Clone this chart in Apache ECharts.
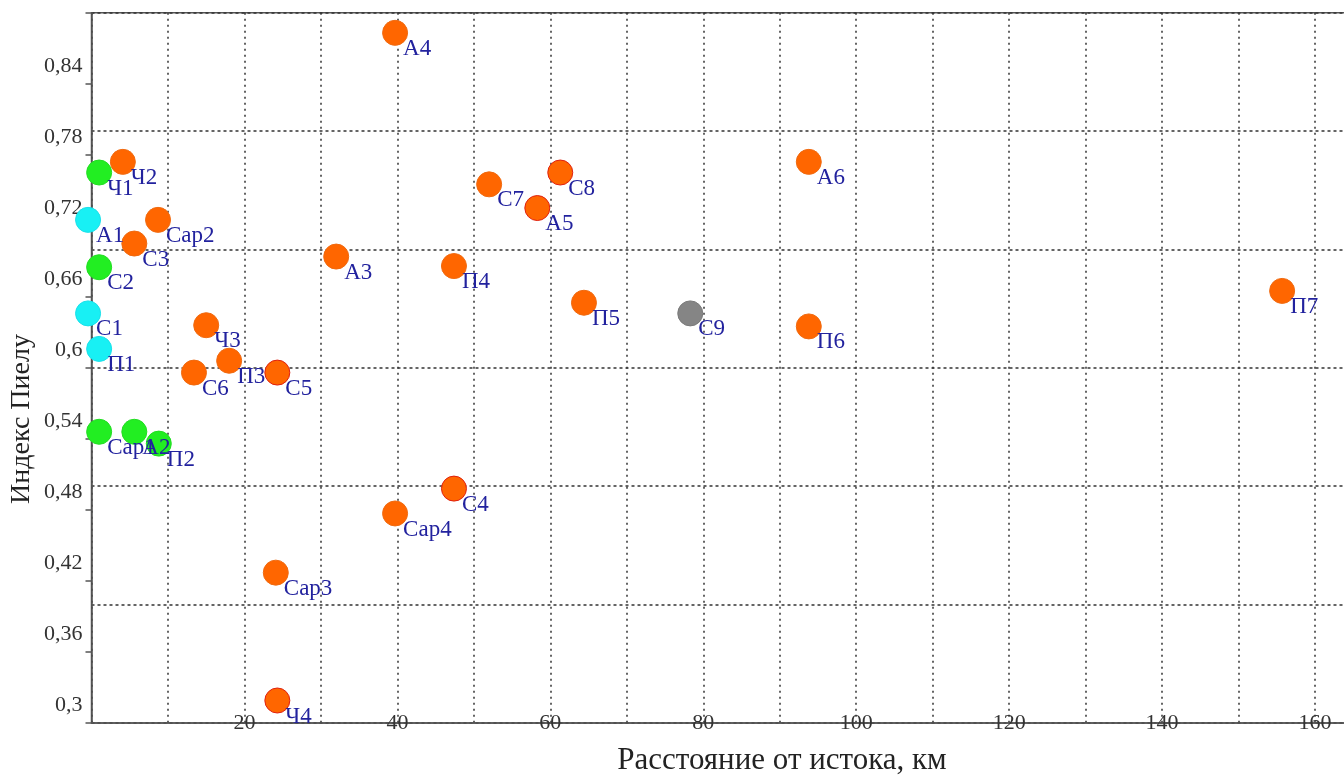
<!DOCTYPE html>
<html>
<head>
<meta charset="utf-8">
<title>Индекс Пиелу</title>
<script src="https://cdn.jsdelivr.net/npm/echarts@6/dist/echarts.min.js"></script>
<style>
  html, body { margin: 0; padding: 0; background: #ffffff; }
  #chart { width: 1344px; height: 778px; }
</style>
</head>
<body>
<div id="chart"></div>
<script>
// Sampling stations: name, distance from the source (km), Pielou evenness index, cluster
const stationNames = ['Ч1', 'Ч2', 'А1', 'Сар2', 'С3', 'С2', 'А3', 'А4', 'С7', 'С8',
  'А5', 'А6', 'П4', 'П5', 'С9', 'П6', 'П7', 'С1', 'П1', 'Ч3',
  'П3', 'С6', 'С5', 'Сар1', 'А2', 'П2', 'С4', 'Сар4', 'Сар3', 'Ч4'];
const distanceKm = [1.0, 4.1, -0.45, 8.7, 5.6, 1.0, 32.0, 39.7, 52.0, 61.3,
  58.3, 93.8, 47.4, 64.4, 78.3, 93.8, 155.7, -0.45, 1.0, 15.0,
  18.0, 13.4, 24.3, 1.0, 5.6, 8.8, 47.4, 39.7, 24.1, 24.3];
const pielouIndex = [0.765, 0.774, 0.725, 0.725, 0.705, 0.685, 0.694, 0.883, 0.755, 0.765,
  0.735, 0.774, 0.686, 0.655, 0.646, 0.635, 0.665, 0.646, 0.616, 0.636,
  0.606, 0.596, 0.596, 0.546, 0.546, 0.536, 0.498, 0.477, 0.427, 0.319];
const cluster = [2, 1, 3, 1, 1, 2, 1, 1, 1, 5,
  5, 1, 1, 1, 4, 1, 1, 3, 3, 1,
  1, 1, 5, 2, 2, 2, 5, 1, 1, 5];

// Axis ticks
const yTickStep = 0.06;
const yGridStep = 0.1;
const xGridStep = 10;
const xLabelStep = 20;

const clusterStyle = {
  1: { color: '#ff6600', borderColor: '#f06a10' },
  2: { color: '#22ee22', borderColor: '#22dd22' },
  3: { color: '#18f0f4', borderColor: '#18e0ea' },
  4: { color: '#858585', borderColor: '#7a7a7a' },
  5: { color: '#ff6600', borderColor: '#e02010' }
};

const serif = '"Liberation Serif", "DejaVu Serif", serif';

const seriesList = Object.keys(clusterStyle).map(function (key) {
  const k = Number(key);
  const data = [];
  for (let i = 0; i < stationNames.length; i++) {
    if (cluster[i] === k) data.push({ name: stationNames[i], value: [distanceKm[i], pielouIndex[i]] });
  }
  return {
    type: 'scatter',
    clip: false,
    symbol: 'circle',
    symbolSize: 25,
    yAxisIndex: 0,
    itemStyle: { color: clusterStyle[k].color, borderColor: clusterStyle[k].borderColor, borderWidth: 1, opacity: 1 },
    label: {
      show: true,
      formatter: '{b}',
      position: [21, 29],
      align: 'left',
      verticalAlign: 'middle',
      color: '#22229e',
      fontFamily: serif,
      fontSize: 23
    },
    emphasis: { disabled: true },
    data: data
  };
});

const chart = echarts.init(document.getElementById('chart'), null, { renderer: 'canvas' });

function commaNumber(v) {
  return String(+v.toFixed(2)).replace('.', ',');
}

chart.setOption({
  backgroundColor: '#ffffff',
  animation: false,
  grid: {
    left: 91.5, top: 12.7, height: 710.3, width: 1254.1,
    containLabel: false,
    outerBoundsMode: 'none',
    show: true, borderColor: '#555555', borderWidth: 1.5, backgroundColor: 'transparent'
  },
  xAxis: {
    type: 'value',
    min: 0, max: 164, interval: xGridStep,
    axisLine: { show: true, lineStyle: { color: '#555555', width: 1.5 } },
    axisTick: { show: false },
    axisLabel: {
      margin: 0,
      verticalAlign: 'middle',
      color: '#333333',
      fontFamily: serif,
      fontSize: 22,
      formatter: function (v) {
        return (v > 0 && v <= 160 && v % xLabelStep === 0) ? String(v) : '';
      }
    },
    splitLine: { show: true, lineStyle: { color: '#333333', width: 1.5, type: [2, 4] } }
  },
  yAxis: [
    {
      type: 'value',
      min: 0.3, max: 0.9, interval: yTickStep,
      axisLine: { show: true, lineStyle: { color: '#555555', width: 1.5 } },
      axisTick: { show: true, length: 6, lineStyle: { color: '#555555', width: 1.5 } },
      axisLabel: {
        margin: 9,
        verticalAlign: 'bottom',
        padding: [0, 0, 7, 0],
        color: '#333333',
        fontFamily: serif,
        fontSize: 22,
        formatter: function (v) { return v > 0.85 ? '' : commaNumber(v); }
      },
      splitLine: { show: false }
    },
    {
      type: 'value',
      position: 'left',
      min: 0.3, max: 0.9, interval: yGridStep,
      axisLine: { show: false },
      axisTick: { show: false },
      axisLabel: { show: false },
      splitLine: { show: true, lineStyle: { color: '#333333', width: 1.5, type: [3, 3] } }
    }
  ],
  graphic: [
    {
      type: 'text',
      x: 22, y: 419,
      rotation: Math.PI / 2,
      style: {
        text: 'Индекс Пиелу',
        fill: '#222222',
        font: '28px "Liberation Serif", serif',
        textAlign: 'center', align: 'center',
        textVerticalAlign: 'middle', verticalAlign: 'middle'
      }
    },
    {
      type: 'text',
      x: 782, y: 761,
      style: {
        text: 'Расстояние от истока, км',
        fill: '#222222',
        font: '31px "Liberation Serif", serif',
        textAlign: 'center', align: 'center',
        textVerticalAlign: 'middle', verticalAlign: 'middle'
      }
    }
  ],
  series: seriesList
});
</script>
</body>
</html>
